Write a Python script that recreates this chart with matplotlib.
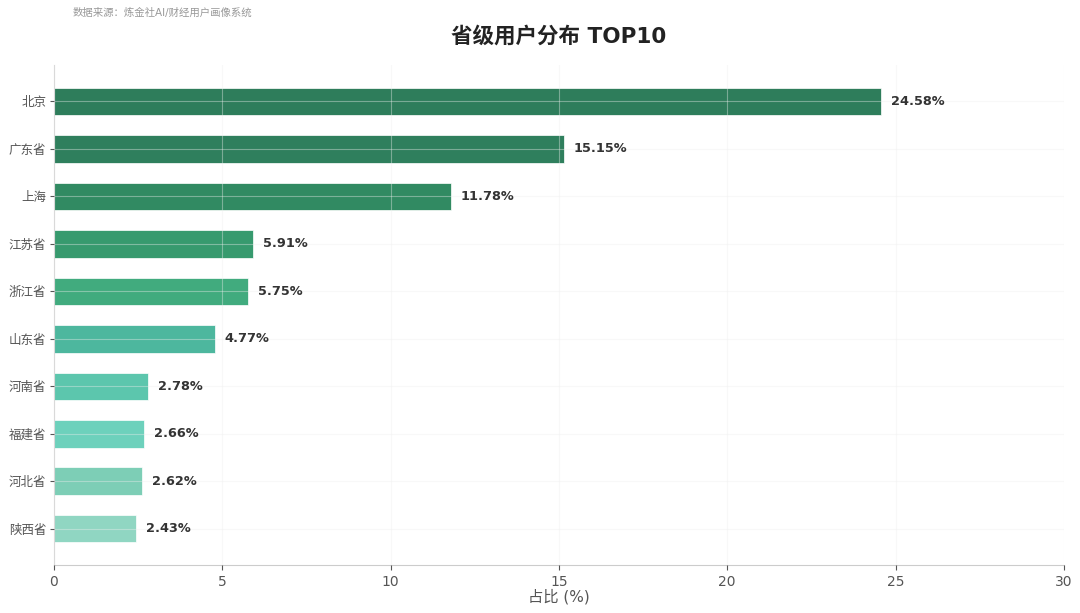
import matplotlib
matplotlib.use("Agg")
import matplotlib.pyplot as plt

plt.rcParams['font.family'] = ['DejaVu Sans', 'Noto Sans CJK SC']

provinces = ['北京', '广东省', '上海', '江苏省', '浙江省', '山东省', '河南省', '福建省', '河北省', '陕西省']
shares = [24.58, 15.15, 11.78, 5.91, 5.75, 4.77, 2.78, 2.66, 2.62, 2.43]
colors = ['#2e7d5b', '#2f7f5d', '#318a62', '#379a6e', '#41ab7e', '#4db79e',
          '#5cc6ad', '#6dd1bc', '#7dceb6', '#90d6c2']
x_ticks = [0, 5, 10, 15, 20, 25, 30]

fig = plt.figure(figsize=(10.8, 6.13), dpi=100)
ax = fig.add_axes([0.05, 0.078, 0.935, 0.816])

ypos = list(range(len(provinces)))
ax.barh(ypos, shares, height=0.58, color=colors, edgecolor='white', linewidth=0.5, zorder=2)
ax.invert_yaxis()
ax.set_yticks(ypos)
ax.set_yticklabels(provinces, fontsize=9, color='#444444')
ax.set_xlim(0, 30)
ax.set_xticks(x_ticks)
ax.tick_params(axis='x', labelsize=10, colors='#555555', length=3.5)
ax.tick_params(axis='y', colors='#555555', length=3, pad=2.5)

for y, v in zip(ypos, shares):
    ax.text(v + 0.3, y, f'{v:.2f}%', va='center', ha='left', fontsize=9.3,
            fontweight='bold', color='#333333', zorder=4)

ax.grid(True, color='#eeeeee', alpha=0.4, linewidth=0.8, zorder=3)
ax.set_axisbelow(False)
for s in ['top', 'right']:
    ax.spines[s].set_visible(False)
for s in ['left', 'bottom']:
    ax.spines[s].set_color('#cccccc')

ax.set_xlabel('占比 (%)', fontsize=11, color='#555555', labelpad=0)
ax.set_title('省级用户分布 TOP10', fontsize=15.5, fontweight='bold', color='#222222', pad=16)
fig.text(0.067, 0.98, '数据来源：炼金社AI/财经用户画像系统', fontsize=7.5, color='#999999', ha='left', va='center')

fig.savefig('out.png', dpi=100)
